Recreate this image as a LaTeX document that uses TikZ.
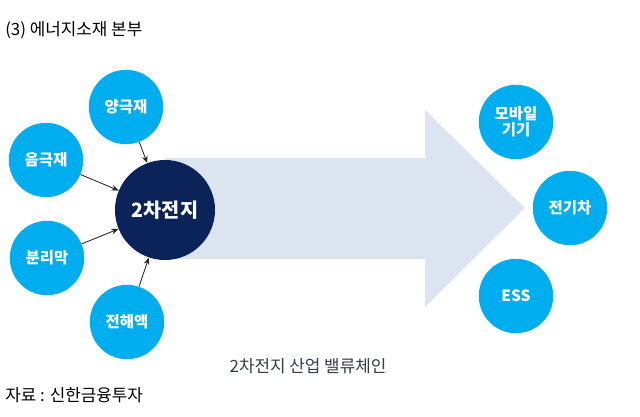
\documentclass[tikz,border=0pt]{standalone}
\usepackage{fontspec}
\setmainfont{Noto Sans CJK KR}
\usepackage{tikz}
\usetikzlibrary{arrows.meta}
\definecolor{partblue}{RGB}{0,174,239}
\definecolor{corenavy}{RGB}{12,35,90}
\definecolor{flowgray}{RGB}{220,228,240}
\definecolor{captiongray}{RGB}{55,60,70}
\tikzset{
  >=Stealth,
  every node/.append style={font=\small},
}

\begin{document}
\begin{tikzpicture}[
  x=0.025cm, y=-0.025cm,
  part/.style={
    circle,
    fill=partblue,
    minimum size=1.86cm,
    inner sep=0pt,
    align=center,
    text=white,
    font=\fontsize{11}{12.5}\selectfont\bfseries
  },
  core/.style={
    circle,
    fill=corenavy,
    minimum size=2.5cm,
    inner sep=0pt,
    text=white,
    font=\fontsize{14}{16}\selectfont\bfseries
  },
  arrow/.style={-{Stealth[length=5pt,width=4pt]}, line width=0.6pt, draw=black!85},
  plain/.style={inner sep=0pt, font=\fontsize{12}{14}\selectfont}
]
\useasboundingbox (0,0) rectangle (640,416);

% --- Title ---
\node[plain, anchor=west] (title) at (5,30) {(3) 에너지소재 본부};

% --- Value chain flow (behind the core) ---
\fill[flowgray] (165,158) -- (425,158) -- (425,110) -- (525,208)
  -- (425,307) -- (425,259) -- (165,259) -- cycle;

% --- Materials (left) ---
\node[core] (cell) at (165,210) {2차전지};
\node[part] (cathode) at (126,107) {양극재};
\node[part] (anode) at (46,160) {음극재};
\node[part] (separator) at (47,258) {분리막};
\node[part] (electrolyte) at (127,322) {전해액};

% Material arrows
\draw[arrow] (cathode) -- (cell);
\draw[arrow] (anode) -- (cell);
\draw[arrow] (separator) -- (cell);
\draw[arrow] (electrolyte) -- (cell);

% --- Applications (right) ---
\node[part] (mobile) at (516,122) {모바일\\[-1pt]기기};
\node[part] (ev) at (570,208) {전기차};
\node[part] (ess) at (516,296) {ESS};

% --- Captions ---
\node[plain, text=captiongray] (caption) at (308,366) {2차전지 산업 밸류체인};
\node[plain, anchor=west] (source) at (5,395) {자료 : 신한금융투자};

\end{tikzpicture}
\end{document}
